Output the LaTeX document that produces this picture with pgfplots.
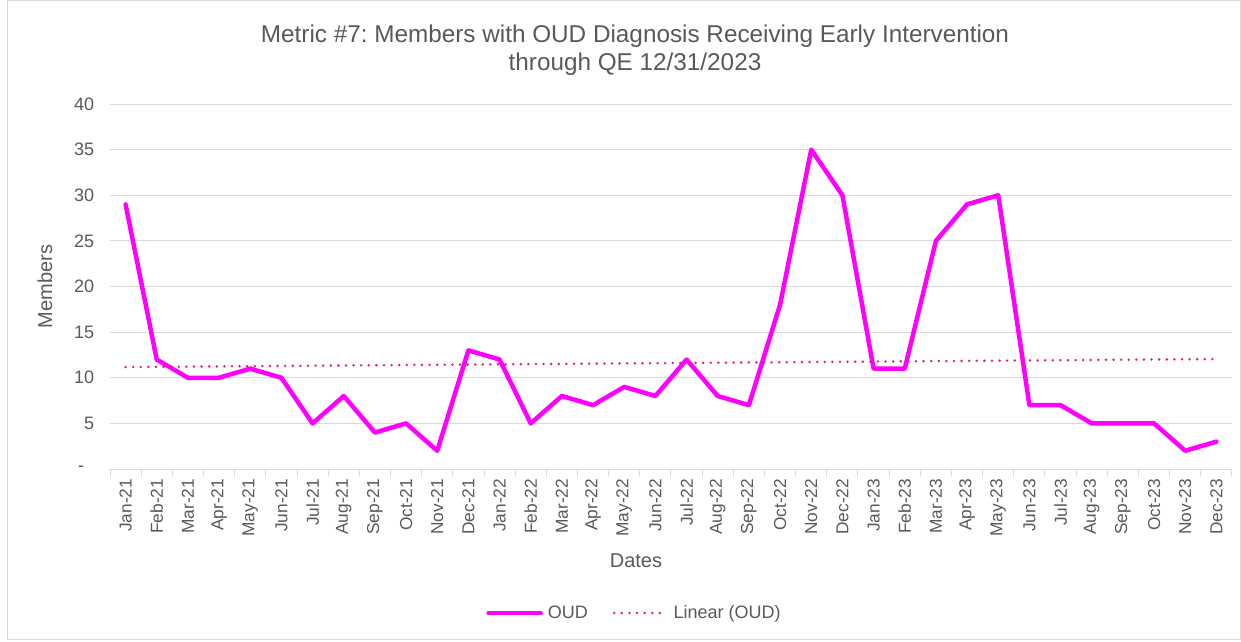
\documentclass[border=0pt]{standalone}
\usepackage{pgfplots}
\pgfplotsset{compat=1.18}
\usepackage{fontspec}
\setmainfont{Liberation Sans}
\frenchspacing
\definecolor{txt}{HTML}{595959}
\definecolor{gridc}{HTML}{D9D9D9}
\definecolor{oud}{HTML}{FF00FF}
\definecolor{trend}{RGB}{226,32,130}
\begin{document}
\begin{tikzpicture}[x=1pt,y=1pt]
\path[use as bounding box] (0,0) rectangle (1241,641);
\draw[gridc, line width=1pt] (7,1.5) rectangle (1240,640);
\node[txt, font=\fontsize{24.3}{28}\selectfont, align=center] at (635,591) {Metric \#7: Members with OUD Diagnosis Receiving Early Intervention\\through QE 12/31/2023};
\begin{axis}[
  at={(110pt,172pt)}, anchor=south west,
  scale only axis, width=1122pt, height=365pt,
  xmin=-0.5, xmax=35.5, ymin=0, ymax=40,
  xtick={0,...,35},
  xticklabels={Jan-21,Feb-21,Mar-21,Apr-21,May-21,Jun-21,Jul-21,Aug-21,Sep-21,Oct-21,Nov-21,Dec-21,Jan-22,Feb-22,Mar-22,Apr-22,May-22,Jun-22,Jul-22,Aug-22,Sep-22,Oct-22,Nov-22,Dec-22,Jan-23,Feb-23,Mar-23,Apr-23,May-23,Jun-23,Jul-23,Aug-23,Sep-23,Oct-23,Nov-23,Dec-23},
  x tick label style={rotate=90, anchor=east, font=\fontsize{17.3}{20}\selectfont, text=txt, xshift=-2pt},
  major x tick style={draw=none},
  minor xtick={-0.5,0.5,...,35.5},
  minor x tick style={draw=gridc, line width=1pt},
  minor tick length=7pt,
  tick align=outside,
  xtick pos=bottom,
  ytick={0,5,...,40},
  yticklabels={-\hphantom{0},5,10,15,20,25,30,35,40},
  y tick label style={font=\fontsize{18}{21}\selectfont, text=txt, xshift=-8pt},
  major y tick style={draw=none},
  ymajorgrids, grid style={gridc, line width=1pt},
  axis line style={draw=none},
  axis x line*=bottom,
  x axis line style={draw=gridc, line width=1pt},
  /pgf/number format/assume math mode=true,
  xlabel={Dates}, ylabel={Members},
  xlabel style={font=\fontsize{20}{24}\selectfont, text=txt, at={(axis description cs:0.4688,0)}, anchor=center, yshift=-92pt},
  ylabel style={font=\fontsize{20}{24}\selectfont, text=txt, at={(axis description cs:0,0.5)}, anchor=center, yshift=65pt},
  legend style={at={(526pt,-144pt)}, anchor=center, draw=none, legend columns=2, font=\fontsize{18}{21}\selectfont, text=txt, /tikz/every even column/.append style={column sep=20pt}, nodes={inner xsep=5pt}},
  legend cell align=left,
  clip=false,
]
\addplot[oud, line width=4.5pt, line join=round, line cap=round,
  legend image code/.code={\draw[oud, line width=4.5pt, line cap=round] (0pt,0pt) -- (52pt,0pt);}] coordinates {
(0,29) (1,12) (2,10) (3,10) (4,11) (5,10) (6,5) (7,8) (8,4) (9,5) (10,2) (11,13)
(12,12) (13,5) (14,8) (15,7) (16,9) (17,8) (18,12) (19,8) (20,7) (21,18) (22,35) (23,30)
(24,11) (25,11) (26,25) (27,29) (28,30) (29,7) (30,7) (31,5) (32,5) (33,5) (34,2) (35,3)
};
\addlegendentry{OUD}
\addplot[trend, line width=2.8pt, line cap=round, dash pattern=on 0pt off 7.6pt,
  legend image code/.code={\draw[trend, line width=2.8pt, line cap=round, dash pattern=on 0pt off 7.6pt] (0pt,0pt) -- (53pt,0pt);}] coordinates {(0,11.17) (35,12.05)};
\addlegendentry{Linear (OUD)}
\end{axis}
\end{tikzpicture}
\end{document}
